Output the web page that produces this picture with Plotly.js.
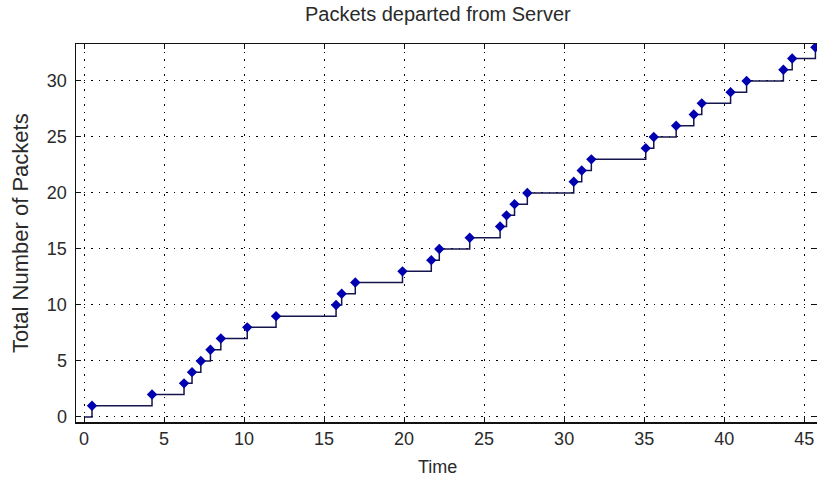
<!DOCTYPE html>
<html>
<head>
<meta charset="utf-8">
<script src="https://cdn.plot.ly/plotly-3.0.1.min.js"></script>
<style>html,body{margin:0;padding:0;background:#fff;}#chart{width:817px;height:486px;}</style>
</head>
<body>
<div id="chart"></div>
<script>
// Departure times of packets
const departTimes = [0.5, 4.25, 6.25, 6.75, 7.3, 7.9, 8.55, 10.2, 12.0, 15.75, 16.1, 16.95,
  19.9, 21.7, 22.2, 24.1, 26.0, 26.4, 26.9, 27.7, 30.6, 31.1, 31.7, 35.1, 35.6,
  37.0, 38.1, 38.6, 40.4, 41.4, 43.7, 44.25, 45.7];
const packetCounts = [1, 2, 3, 4, 5, 6, 7, 8, 9, 10, 11, 12, 13, 14, 15, 16, 17, 18, 19, 20,
  21, 22, 23, 24, 25, 26, 27, 28, 29, 30, 31, 32, 33];
const startTime = [0];
const startCount = [0];
const xTicks = [0, 5, 10, 15, 20, 25, 30, 35, 40, 45];
const yTicks = [0, 5, 10, 15, 20, 25, 30];

const font = 'Liberation Sans, Arial, sans-serif';

const stepTrace = {
  x: startTime.concat(departTimes),
  y: startCount.concat(packetCounts),
  mode: 'lines',
  line: {shape: 'hv', color: '#15154d', width: 1.5},
  hoverinfo: 'skip',
  showlegend: false
};
const markerTrace = {
  x: departTimes,
  y: packetCounts,
  mode: 'markers',
  marker: {symbol: 'diamond', size: 8, color: '#0000b0', line: {width: 0}},
  showlegend: false
};

const axisCommon = {
  showline: true, linecolor: '#111', linewidth: 1.5, mirror: 'ticks',
  ticks: 'inside', ticklen: 5, tickcolor: '#111', tickwidth: 1,
  showgrid: true, gridcolor: '#000', gridwidth: 1, griddash: '1.5px,6px',
  zeroline: false,
  tickfont: {family: font, size: 18, color: '#2a2a2a'}
};

const layout = {
  width: 817, height: 486,
  margin: {l: 76, r: 0, t: 44, b: 64},
  paper_bgcolor: '#fff', plot_bgcolor: '#fff',
  xaxis: Object.assign({}, axisCommon, {range: [-0.5, 45.8], tickvals: xTicks}),
  yaxis: Object.assign({}, axisCommon, {range: [-0.45, 33.3], tickvals: yTicks, ticklabelstandoff: 4}),
  annotations: [
    {text: 'Packets departed from Server', xref: 'paper', yref: 'paper', x: 0.4885, y: 1,
     yanchor: 'middle', xanchor: 'center', yshift: 30, showarrow: false,
     font: {family: font, size: 20, color: '#2a2a2a'}},
    {text: 'Time', xref: 'paper', yref: 'paper', x: 0.4885, y: 0, yshift: -45,
     yanchor: 'middle', xanchor: 'center', showarrow: false,
     font: {family: font, size: 18, color: '#2a2a2a'}},
    {text: 'Total Number of Packets', xref: 'paper', yref: 'paper', x: 0, xshift: -56, y: 0.5,
     yanchor: 'middle', xanchor: 'center', textangle: -90, showarrow: false,
     font: {family: font, size: 22, color: '#2a2a2a'}}
  ]
};

Plotly.newPlot('chart', [stepTrace, markerTrace], layout, {staticPlot: true, displayModeBar: false});
</script>
</body>
</html>
